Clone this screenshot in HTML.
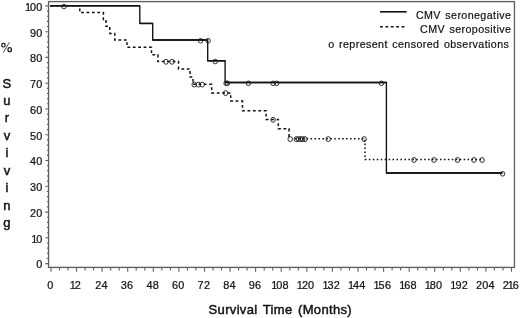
<!DOCTYPE html>
<html><head><meta charset="utf-8"><title>Survival</title>
<style>html,body{margin:0;padding:0;background:#fff}svg{display:block;will-change:transform}text{font-family:"Liberation Sans",sans-serif;fill:#111}.t{font-size:10.9px;stroke:#111;stroke-width:0.22px}.l{font-size:10.7px;letter-spacing:0.4px;word-spacing:1.1px;stroke:#111;stroke-width:0.2px}.b{font-size:13px;stroke:#111;stroke-width:0.45px;letter-spacing:0.33px}</style></head><body>
<svg width="520" height="318" viewBox="0 0 520 318">
<rect x="0" y="0" width="520" height="318" fill="#fff"/>
<g opacity="0.999">
<rect x="48.55" y="1.6" width="465.9" height="265.8" fill="none" stroke="#606060" stroke-width="1.35"/>
<path d="M45.3 263.6H48.55M46.9 258.4H48.55M46.9 253.3H48.55M46.9 248.1H48.55M46.9 243.0H48.55M45.3 237.8H48.55M46.9 232.7H48.55M46.9 227.5H48.55M46.9 222.4H48.55M46.9 217.2H48.55M45.3 212.1H48.55M46.9 206.9H48.55M46.9 201.8H48.55M46.9 196.6H48.55M46.9 191.4H48.55M45.3 186.3H48.55M46.9 181.1H48.55M46.9 176.0H48.55M46.9 170.8H48.55M46.9 165.7H48.55M45.3 160.5H48.55M46.9 155.4H48.55M46.9 150.2H48.55M46.9 145.1H48.55M46.9 139.9H48.55M45.3 134.8H48.55M46.9 129.6H48.55M46.9 124.4H48.55M46.9 119.3H48.55M46.9 114.1H48.55M45.3 109.0H48.55M46.9 103.8H48.55M46.9 98.7H48.55M46.9 93.5H48.55M46.9 88.4H48.55M45.3 83.2H48.55M46.9 78.1H48.55M46.9 72.9H48.55M46.9 67.7H48.55M46.9 62.6H48.55M45.3 57.4H48.55M46.9 52.3H48.55M46.9 47.1H48.55M46.9 42.0H48.55M46.9 36.8H48.55M45.3 31.7H48.55M46.9 26.5H48.55M46.9 21.4H48.55M46.9 16.2H48.55M46.9 11.1H48.55M45.3 5.9H48.55" stroke="#606060" stroke-width="1.1" fill="none"/>
<path d="M51.0 267.45V271.8M59.5 267.45V270.6M68.0 267.45V270.6M76.5 267.45V271.8M85.1 267.45V270.6M93.6 267.45V270.6M102.1 267.45V271.8M110.7 267.45V270.6M119.2 267.45V270.6M127.7 267.45V271.8M136.2 267.45V270.6M144.8 267.45V270.6M153.3 267.45V271.8M161.8 267.45V270.6M170.4 267.45V270.6M178.9 267.45V271.8M187.4 267.45V270.6M195.9 267.45V270.6M204.5 267.45V271.8M213.0 267.45V270.6M221.5 267.45V270.6M230.1 267.45V271.8M238.6 267.45V270.6M247.1 267.45V270.6M255.6 267.45V271.8M264.2 267.45V270.6M272.7 267.45V270.6M281.2 267.45V271.8M289.8 267.45V270.6M298.3 267.45V270.6M306.8 267.45V271.8M315.3 267.45V270.6M323.9 267.45V270.6M332.4 267.45V271.8M340.9 267.45V270.6M349.5 267.45V270.6M358.0 267.45V271.8M366.5 267.45V270.6M375.0 267.45V270.6M383.6 267.45V271.8M392.1 267.45V270.6M400.6 267.45V270.6M409.2 267.45V271.8M417.7 267.45V270.6M426.2 267.45V270.6M434.7 267.45V271.8M443.3 267.45V270.6M451.8 267.45V270.6M460.3 267.45V271.8M468.9 267.45V270.6M477.4 267.45V270.6M485.9 267.45V271.8M494.4 267.45V270.6M503.0 267.45V270.6M511.5 267.45V271.8" stroke="#606060" stroke-width="1.1" fill="none"/>
<text class="t" x="36.3" y="268.4">0</text>
<text class="t" x="31.3 36.3" y="242.6">10</text>
<text class="t" x="30.1 36.3" y="216.9">20</text>
<text class="t" x="30.1 36.3" y="191.1">30</text>
<text class="t" x="30.1 36.3" y="165.3">40</text>
<text class="t" x="30.1 36.3" y="139.6">50</text>
<text class="t" x="30.1 36.3" y="113.8">60</text>
<text class="t" x="30.1 36.3" y="88.0">70</text>
<text class="t" x="30.1 36.3" y="62.2">80</text>
<text class="t" x="30.1 36.3" y="36.5">90</text>
<text class="t" x="25.0 30.1 36.3" y="10.7">100</text>
<text class="t" x="47.2" y="288.5">0</text>
<text class="t" x="69.7 74.7" y="288.5">12</text>
<text class="t" x="95.3 101.5" y="288.5">24</text>
<text class="t" x="120.8 127.1" y="288.5">36</text>
<text class="t" x="146.4 152.7" y="288.5">48</text>
<text class="t" x="172.0 178.3" y="288.5">60</text>
<text class="t" x="197.6 203.9" y="288.5">72</text>
<text class="t" x="223.2 229.5" y="288.5">84</text>
<text class="t" x="248.8 255.0" y="288.5">96</text>
<text class="t" x="271.2 276.3 282.6" y="288.5">108</text>
<text class="t" x="296.8 301.9 308.1" y="288.5">120</text>
<text class="t" x="322.4 327.5 333.7" y="288.5">132</text>
<text class="t" x="348.0 353.1 359.3" y="288.5">144</text>
<text class="t" x="373.6 378.6 384.9" y="288.5">156</text>
<text class="t" x="399.2 404.2 410.5" y="288.5">168</text>
<text class="t" x="424.8 429.8 436.1" y="288.5">180</text>
<text class="t" x="450.3 455.4 461.7" y="288.5">192</text>
<text class="t" x="475.9 482.2 488.4" y="288.5">204</text>
<text class="t" x="502.7 507.8 512.8" y="288.5">216</text>
<g fill="none" stroke="#151515"><ellipse cx="3.45" cy="45.2" rx="1.75" ry="1.8" stroke-width="1.2"/><ellipse cx="9.7" cy="49.7" rx="1.75" ry="2.0" stroke-width="1.2"/><path d="M9.5 42.1L3.3 52.6" stroke="#333" stroke-width="0.85"/></g>
<text class="b" x="7.1" y="87.5" text-anchor="middle">S</text>
<text class="b" x="7.1" y="105.0" text-anchor="middle">u</text>
<text class="b" x="7.1" y="122.4" text-anchor="middle">r</text>
<text class="b" x="7.1" y="139.9" text-anchor="middle">v</text>
<text class="b" x="7.1" y="157.4" text-anchor="middle">i</text>
<text class="b" x="7.1" y="174.8" text-anchor="middle">v</text>
<text class="b" x="7.1" y="192.3" text-anchor="middle">i</text>
<text class="b" x="7.1" y="209.7" text-anchor="middle">n</text>
<text class="b" x="7.1" y="227.2" text-anchor="middle">g</text>
<text class="b" x="208.6" y="313.9" word-spacing="1.6">Survival Time (Months)</text>
<path d="M380 11.8H406.7" stroke="#111" stroke-width="1.6" fill="none"/>
<path d="M380 26.7H406" stroke="#111" stroke-width="1.5" stroke-dasharray="2.8 2.6" fill="none"/>
<text class="l" x="511.3" y="18.6" text-anchor="end">CMV seronegative</text>
<text class="l" x="511.3" y="33.4" text-anchor="end">CMV seropositive</text>
<text class="l" x="509.3" y="47.8" text-anchor="end">o represent censored observations</text>
<path d="M50.2 5.7 L79.8 5.7 L79.8 12.6 L103.4 12.6 L103.4 19.4 L106.0 19.4 L106.0 26.3 L109.8 26.3 L109.8 33.4 L114.8 33.4 L114.8 40.1 L127.0 40.1 L127.0 47.3 L151.5 47.3 L151.5 54.7 L157.9 54.7 L157.9 61.5 L178.5 61.5 L178.5 68.9 L190.0 68.9 L190.0 77.0 L193.0 77.0 L193.0 84.3 L211.7 84.3 L211.7 92.9 L230.7 92.9 L230.7 101.1 L242.5 101.1 L242.5 110.8 L266.1 110.8 L266.1 119.5 L278.3 119.5 L278.3 128.8 L289.0 128.8 L289.0 138.7" stroke="#111" stroke-width="1.5" stroke-dasharray="2.8 2.6" fill="none"/>
<path d="M293.0 138.8 L365.0 138.8 L365.0 159.5 L482.0 159.5" stroke="#111" stroke-width="1.5" stroke-dasharray="1.55 2.4" stroke-dashoffset="2.2" fill="none"/>
<path d="M50.2 5.8 L139.8 5.8 L139.8 23.4 L152.7 23.4 L152.7 40.0 L207.7 40.0 L207.7 60.7 L225.1 60.7 L225.1 82.5 L386.4 82.5 L386.4 173.0 L502.5 173.0" stroke="#111" stroke-width="1.35" fill="none" stroke-linejoin="miter"/>
<path d="M50.2 5.8H139.8M139.8 23.4H152.7M152.7 40.0H207.7M207.7 60.7H225.1M225.1 82.5H386.4M386.4 173.0H502.5" stroke="#111" stroke-width="1.45" fill="none"/>
<ellipse cx="63.9" cy="6.6" rx="2.25" ry="2.3" fill="none" stroke="#1a1a1a" stroke-width="0.9"/>
<ellipse cx="200.6" cy="40.8" rx="2.25" ry="2.3" fill="none" stroke="#1a1a1a" stroke-width="0.9"/>
<ellipse cx="208.1" cy="40.8" rx="2.25" ry="2.3" fill="none" stroke="#1a1a1a" stroke-width="0.9"/>
<ellipse cx="215.2" cy="61.5" rx="2.25" ry="2.3" fill="none" stroke="#1a1a1a" stroke-width="0.9"/>
<ellipse cx="226.1" cy="83.3" rx="2.25" ry="2.3" fill="none" stroke="#1a1a1a" stroke-width="0.9"/>
<ellipse cx="227.4" cy="83.3" rx="2.25" ry="2.3" fill="none" stroke="#1a1a1a" stroke-width="0.9"/>
<ellipse cx="248.4" cy="83.3" rx="2.25" ry="2.3" fill="none" stroke="#1a1a1a" stroke-width="0.9"/>
<ellipse cx="273.1" cy="83.3" rx="2.25" ry="2.3" fill="none" stroke="#1a1a1a" stroke-width="0.9"/>
<ellipse cx="276.7" cy="83.3" rx="2.25" ry="2.3" fill="none" stroke="#1a1a1a" stroke-width="0.9"/>
<ellipse cx="381.4" cy="83.3" rx="2.25" ry="2.3" fill="none" stroke="#1a1a1a" stroke-width="0.9"/>
<ellipse cx="502.6" cy="173.8" rx="2.25" ry="2.3" fill="none" stroke="#1a1a1a" stroke-width="0.9"/>
<ellipse cx="166.0" cy="61.8" rx="2.25" ry="2.45" fill="none" stroke="#1a1a1a" stroke-width="0.9"/>
<ellipse cx="172.1" cy="61.8" rx="2.25" ry="2.45" fill="none" stroke="#1a1a1a" stroke-width="0.9"/>
<ellipse cx="194.2" cy="84.6" rx="2.25" ry="2.45" fill="none" stroke="#1a1a1a" stroke-width="0.9"/>
<ellipse cx="198.4" cy="84.6" rx="2.25" ry="2.45" fill="none" stroke="#1a1a1a" stroke-width="0.9"/>
<ellipse cx="202.2" cy="84.6" rx="2.25" ry="2.45" fill="none" stroke="#1a1a1a" stroke-width="0.9"/>
<ellipse cx="225.6" cy="93.1" rx="2.25" ry="2.45" fill="none" stroke="#1a1a1a" stroke-width="0.9"/>
<ellipse cx="273.1" cy="119.8" rx="2.25" ry="2.45" fill="none" stroke="#1a1a1a" stroke-width="0.9"/>
<ellipse cx="290.2" cy="139.1" rx="2.25" ry="2.45" fill="none" stroke="#1a1a1a" stroke-width="0.9"/>
<ellipse cx="296.3" cy="139.1" rx="2.25" ry="2.45" fill="none" stroke="#1a1a1a" stroke-width="0.9"/>
<ellipse cx="298.6" cy="139.1" rx="2.25" ry="2.45" fill="none" stroke="#1a1a1a" stroke-width="0.9"/>
<ellipse cx="300.6" cy="139.1" rx="2.25" ry="2.45" fill="none" stroke="#1a1a1a" stroke-width="0.9"/>
<ellipse cx="302.6" cy="139.1" rx="2.25" ry="2.45" fill="none" stroke="#1a1a1a" stroke-width="0.9"/>
<ellipse cx="305.0" cy="139.1" rx="2.25" ry="2.45" fill="none" stroke="#1a1a1a" stroke-width="0.9"/>
<ellipse cx="328.2" cy="139.1" rx="2.25" ry="2.45" fill="none" stroke="#1a1a1a" stroke-width="0.9"/>
<ellipse cx="364.1" cy="139.1" rx="2.25" ry="2.45" fill="none" stroke="#1a1a1a" stroke-width="0.9"/>
<ellipse cx="414.0" cy="160.0" rx="2.25" ry="2.45" fill="none" stroke="#1a1a1a" stroke-width="0.9"/>
<ellipse cx="433.9" cy="160.0" rx="2.25" ry="2.45" fill="none" stroke="#1a1a1a" stroke-width="0.9"/>
<ellipse cx="457.5" cy="160.0" rx="2.25" ry="2.45" fill="none" stroke="#1a1a1a" stroke-width="0.9"/>
<ellipse cx="473.9" cy="160.0" rx="2.25" ry="2.45" fill="none" stroke="#1a1a1a" stroke-width="0.9"/>
<ellipse cx="482.1" cy="160.0" rx="2.25" ry="2.45" fill="none" stroke="#1a1a1a" stroke-width="0.9"/>
</g></svg></body></html>
